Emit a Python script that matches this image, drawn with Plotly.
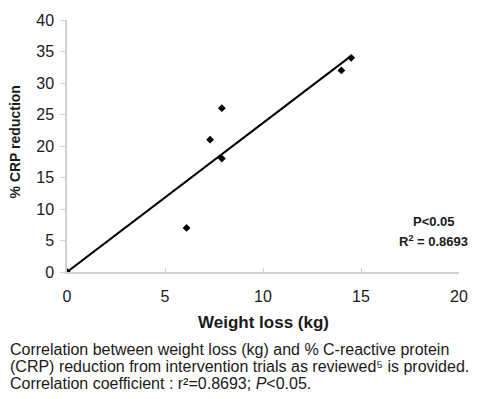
import plotly.graph_objects as go

weight_loss = [0, 6.1, 7.3, 7.9, 7.9, 14.0, 14.5]
crp_reduction = [0, 7, 21, 26, 18, 32, 34]
trend_x = [0, 14.5]
trend_y = [0, 34.3]
x_ticks = [0, 5, 10, 15, 20]
y_ticks = [0, 5, 10, 15, 20, 25, 30, 35, 40]

font = "Liberation Sans, Arial, sans-serif"
ink = "#1a1a1a"

fig = go.Figure()
fig.add_trace(go.Scatter(x=trend_x, y=trend_y, mode="lines",
                         line=dict(color="black", width=2), showlegend=False))
fig.add_trace(go.Scatter(x=weight_loss, y=crp_reduction, mode="markers",
                         marker=dict(symbol="diamond", size=6, color="black"),
                         showlegend=False))

fig.update_layout(
    width=480, height=399,
    margin=dict(l=67, r=17, t=16, b=127),
    paper_bgcolor="white", plot_bgcolor="white",
    font=dict(family=font, color=ink),
    xaxis=dict(range=[0, 20], tickvals=x_ticks, showgrid=False, zeroline=False,
               showline=True, linecolor="#d0d0d0", linewidth=1.5,
               ticks="inside", ticklen=4, tickcolor="#d0d0d0",
               ticklabelstandoff=9,
               tickfont=dict(size=16, color=ink)),
    yaxis=dict(range=[0, 40], tickvals=y_ticks, showgrid=False, zeroline=False,
               showline=True, linecolor="#d0d0d0", linewidth=1.5,
               ticks="outside", ticklen=5, tickcolor="#d0d0d0",
               ticklabelstandoff=3,
               tickfont=dict(size=16, color=ink)),
)

fig.add_annotation(x=0.5, y=-0.2, xref="paper", yref="paper", showarrow=False,
                   text="<b>Weight loss (kg)</b>", font=dict(size=17, color=ink),
                   xanchor="center", yanchor="middle")
fig.add_annotation(x=-0.134, y=0.516, xref="paper", yref="paper", showarrow=False,
                   text="<b>% CRP reduction</b>", font=dict(size=14, color=ink),
                   textangle=-90, xanchor="center", yanchor="middle")
fig.add_annotation(x=18.7, y=8.0, xref="x", yref="y", showarrow=False,
                   text="<b>P<0.05</b>", font=dict(size=13, color=ink),
                   xanchor="center", yanchor="middle")
fig.add_annotation(x=18.7, y=5.0, xref="x", yref="y", showarrow=False,
                   text="<b>R<sup>2</sup> = 0.8693</b>", font=dict(size=13, color=ink),
                   xanchor="center", yanchor="middle")

caption_lines = [
    "Correlation between weight loss (kg) and % C-reactive protein",
    "(CRP) reduction from intervention trials as reviewed\u2075 is provided.",
    "Correlation coefficient : r\u00b2=0.8693; <i>P</i><0.05.",
]
caption_y = [351, 368, 385]
for line, py in zip(caption_lines, caption_y):
    fig.add_annotation(x=-0.149, y=(272 - py) / 256, xref="paper", yref="paper",
                       showarrow=False, text=line, align="left",
                       font=dict(size=16, color=ink),
                       xanchor="left", yanchor="middle", borderpad=0)

fig.write_html("out.html", config={"displayModeBar": False},
               post_script="document.body.style.margin='0';document.body.style.overflow='hidden';")
